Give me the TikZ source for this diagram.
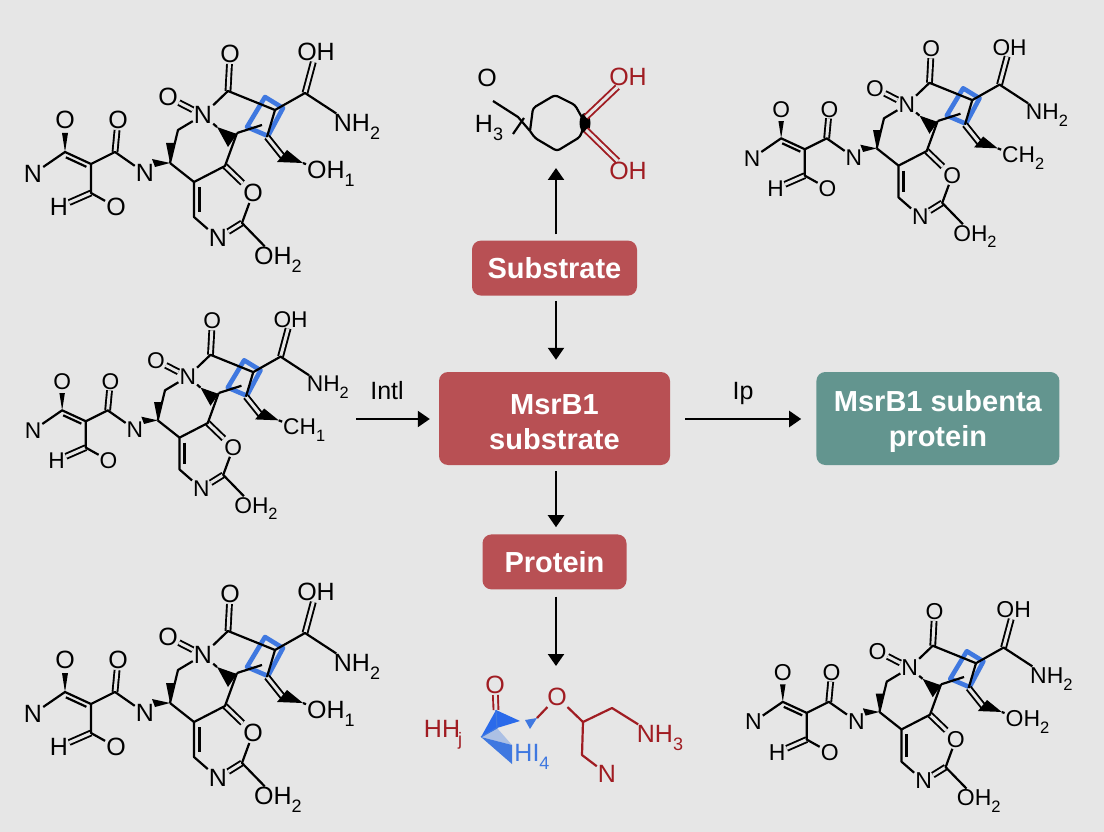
\documentclass[tikz,border=0pt]{standalone}
\usepackage{fontspec}
\setmainfont{Liberation Sans}
\usepackage{xcolor}
\usepackage{tikz}
\usetikzlibrary{positioning, arrows.meta, calc}
\definecolor{paper}{HTML}{E6E6E6}
\definecolor{boxred}{HTML}{B85054}
\definecolor{boxteal}{HTML}{63958F}
\definecolor{chemred}{HTML}{A01C22}
\definecolor{chemblue}{HTML}{3F78E0}
\definecolor{chemdeep}{HTML}{2A6AEA}
\tikzset{
  atom/.style={inner sep=1pt, font=\fontsize{25}{25}\selectfont},
  bond/.style={line width=2.2pt, line join=round},
  dbl/.style={line width=1.9pt, double=paper, double distance=3pt},
  bluebond/.style={line width=4.6pt, draw=chemblue, line join=round},
  redbox/.style={fill=boxred, rounded corners=9pt, text=white, align=center, font=\fontsize{29}{35}\selectfont\bfseries},
  tealbox/.style={redbox, fill=boxteal},
  flow/.style={line width=2.2pt, -{Triangle[length=12pt, width=16pt]}},
}
\newcommand{\sbs}[1]{\raisebox{-.3em}{\fontsize{18}{18}\selectfont #1}}
\newcommand{\drawmolecule}[3]{%
  \begin{scope}[shift={(#1)}, scale=#2, transform shape]
    \draw[bluebond] (265,97) -- (283,108) -- (268,136) -- (247,127) -- cycle;
    \coordinate (ca) at (65,152);
    \coordinate (cb) at (91,164);
    \coordinate (cc) at (115,152);
    \coordinate (cd) at (91,193);
    \coordinate (ce) at (170,163);
    \coordinate (cf) at (178,130);
    \coordinate (cg) at (228,91);
    \coordinate (ch) at (275,110);
    \coordinate (ci) at (305,93);
    \coordinate (cj) at (237,133);
    \coordinate (ck) at (225,166);
    \coordinate (cl) at (194,182);
    \coordinate (cm) at (194,217);
    \coordinate (cn) at (242,223);
    \coordinate (cr) at (267,137);
    \coordinate (cs) at (283,157);
    \coordinate (ct) at (303,163);
    \coordinate (cu) at (262,125);
    \coordinate (cv) at (217,127);
    \node[atom] (oa) at (65,120) {O};
    \node[atom] (na) at (33,174) {N};
    \node[atom] (ob) at (118,120) {O};
    \node[atom] (nb) at (145,173) {N};
    \node[atom] (ha) at (59,207) {H};
    \node[atom] (oc) at (116,207) {O};
    \node[atom] (nc) at (203,115) {N};
    \node[atom] (od) at (168,97) {O};
    \node[atom] (oe) at (230,54) {O};
    \node[atom] (of) at (316,52) {OH};
    \node[atom] (ng) at (357,127) {NH\sbs{2}};
    \node[atom] (lab) at (331,174) {#3};
    \node[atom] (oh) at (253,193) {O};
    \node[atom] (ni) at (218,238) {N};
    \node[atom] (oj) at (278,260) {OH\sbs{2}};
    \draw[dbl] (cc) -- (ob);
    \draw[dbl] (cd) -- (ha);
    \draw[dbl] (nc) -- (od);
    \draw[dbl] (cg) -- (oe);
    \draw[dbl] (ci) -- (of);
    \draw[dbl] (ck) -- (oh);
    \draw[dbl] (cn) -- (ni);
    \draw[dbl] (cr) -- (cs);
    \draw[bond] (na) -- (ca) -- (cb) -- (cc) -- (nb);
    \draw[bond] (cb) -- (cd) -- (oc);
    \draw[bond, shorten <=3pt, shorten >=3pt] ($(ca)!4.5pt!-90:(cb)$) -- ($(cb)!4.5pt!90:(ca)$);
    \draw[bond] (ce) -- (cf) -- (nc) -- (cg) -- (ch) -- (ci) -- (ng);
    \draw[bond] (ch) -- (cr);
    \draw[bond] (cj) -- (ck) -- (cl) -- (cm) -- (ni);
    \draw[bond] (ce) -- (cl);
    \draw[bond] (cj) -- (cu);
    \draw[bond] (nc) -- (cv);
    \draw[bond] (oh) -- (cn) -- (oj);
    \draw[bond] (ct) -- (lab);
    \draw[bond, shorten <=5pt, shorten >=5pt] ($(cl)!5.5pt!90:(cm)$) -- ($(cm)!5.5pt!-90:(cl)$);
    \fill (ca) -- (62,133) -- (68,133) -- cycle;
    \fill (ce) -- (155,167) -- (152,159) -- cycle;
    \fill (ce) -- (166,143) -- (175,143) -- cycle;
    \fill (cv) -- (237,134) -- (228,147) -- cycle;
    \fill (277,162) -- (287,150) -- (ct) -- cycle;
  \end{scope}}
\begin{document}
\begin{tikzpicture}[x=1pt, y=-1pt]
  \fill[paper] (0,0) rectangle (1104,832);
  \useasboundingbox (0,0) rectangle (1104,832);

  \drawmolecule{0,0}{1}{OH\sbs{1}}
  \drawmolecule{722,0}{0.91}{CH\sbs{2}}
  \drawmolecule{3,272}{0.91}{CH\sbs{1}}
  \drawmolecule{0,540}{1}{OH\sbs{1}}
  \drawmolecule{723,562}{0.92}{OH\sbs{2}}

  \node[redbox, minimum width=231pt, minimum height=93pt] (main) at (554.5,418.5) {\rule{0pt}{27pt}MsrB1\\substrate};
  \node[redbox, minimum width=165pt, minimum height=55pt, above=76pt of main] (substrate) {Substrate};
  \node[redbox, minimum width=144pt, minimum height=55pt, below=69pt of main] (protein) {Protein};
  \node[tealbox, minimum width=243pt, minimum height=93pt, right=146pt of main] (product) {\rule{0pt}{27pt}MsrB1 subenta\\protein};

  \coordinate (topend) at (556,168);
  \coordinate (botend) at (556,666);
  \coordinate (inlet) at (356,419);
  \draw[flow, shorten <=6pt] (substrate.north -| topend) -- (topend);
  \draw[flow, shorten <=5pt, shorten >=12pt] (substrate.south -| topend) -- (main.north -| topend);
  \draw[flow, shorten <=6pt, shorten >=7pt] (main.south -| topend) -- (protein.north -| topend);
  \draw[flow, shorten <=7pt] (protein.south -| topend) -- (botend);
  \draw[flow, shorten >=9pt] (inlet) -- (main.west |- inlet);
  \draw[flow, shorten <=15pt, shorten >=15pt] (main.east |- inlet) -- (product.west |- inlet);
  \node[atom] (intl) at (387,391) {Intl};
  \node[atom] (ip) at (743,393) {Ip};

  % upper ring molecule
  \node[atom] (sa) at (487,78) {O};
  \node[atom] (sb) at (489,128) {H\sbs{3}};
  \node[atom, text=chemred] (sc) at (628,77) {OH};
  \node[atom, text=chemred] (sd) at (628,171) {OH};
  \coordinate (sm) at (493,101);
  \coordinate (sn) at (518,117);
  \coordinate (so) at (530,131);
  \coordinate (sp) at (513,134);
  \coordinate (sq) at (524,118);
  \draw[bond] (sm) -- (sn) -- (so);
  \draw[bond] (sp) -- (sq);
  \draw[bond, rounded corners=3pt] (so) -- (533,108) -- (555,95) -- (575,105) -- (585,123) -- (580,137) -- (557,151) -- (535,138) -- (so);
  \fill (585,123) ellipse (5.5pt and 10pt);
  \coordinate (se) at (586,117);
  \coordinate (sf) at (586,130);
  \draw[dbl, draw=chemred] (se) -- (sc);
  \draw[dbl, draw=chemred] (sf) -- (sd);

  % lower molecule
  \node[atom, text=chemred] (ra) at (495,685) {O};
  \node[atom, text=chemred] (rb) at (557,697) {O};
  \node[atom, text=chemred] (rc) at (660,738) {NH\sbs{3}};
  \node[atom, text=chemred] (rd) at (607,774) {N};
  \node[atom, text=chemred] (re) at (443,735) {HH\hspace{-2pt}\sbs{j}};
  \node[atom, text=chemblue] (rf) at (532,757) {HI\sbs{4}};
  \coordinate (ta) at (496,710);
  \coordinate (tb) at (520,721);
  \coordinate (tc) at (497,728);
  \coordinate (td) at (481,737);
  \coordinate (te) at (512,745);
  \coordinate (tf) at (512,764);
  \coordinate (tg) at (537,718);
  \coordinate (th) at (583,722);
  \coordinate (ti) at (612,708);
  \coordinate (tj) at (582,755);
  \draw[dbl, draw=chemred] (ta) -- (ra);
  \fill[chemblue!35!paper] (td) -- (tc) -- (te) -- cycle;
  \fill[chemdeep] (ta) -- (tb) -- (tc) -- cycle;
  \fill[chemdeep] (ta) -- (td) -- (tc) -- cycle;
  \fill[chemblue] (td) -- (te) -- (tf) -- cycle;
  \fill[chemblue] (525,720) -- (tg) -- (530,729) -- cycle;
  \draw[line width=1.2pt, chemblue] (ta) -- (tc) -- (td);
  \draw[bond, chemred] (tg) -- (rb) -- (th) -- (ti) -- (rc);
  \draw[bond, chemred] (th) -- (tj) -- (rd);
\end{tikzpicture}
\end{document}
